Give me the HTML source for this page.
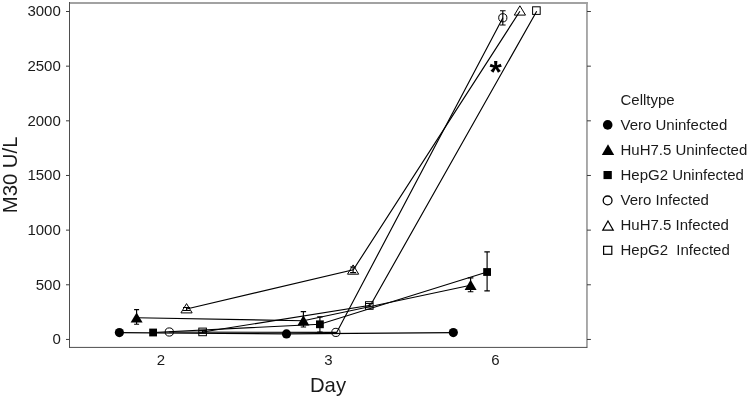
<!DOCTYPE html>
<html>
<head>
<meta charset="utf-8">
<title>M30 U/L by Day and Celltype</title>
<style>
html,body{margin:0;padding:0;background:#fff;}
body{width:750px;height:399px;overflow:hidden;}
svg{display:block;}
text{font-family:"Liberation Sans",sans-serif;fill:#1a1a1a;}
.tick{font-size:15px;}
.leg{font-size:15px;}
.axt{font-size:20.3px;}
.ln{stroke:#000;stroke-width:1.15;fill:none;}
.eb{stroke:#000;stroke-width:1.15;fill:none;}
.fm{fill:#000;stroke:none;}
.om{fill:none;stroke:#000;stroke-width:1;}
</style>
</head>
<body>
<svg width="750" height="399" viewBox="0 0 750 399">
<rect x="0" y="0" width="750" height="399" fill="#ffffff"/>

<!-- plot frame -->
<g id="frame">
  <rect x="69" y="2" width="518.9" height="2" fill="#a2a2a2"/>
  <rect x="586.05" y="2" width="1.8" height="345.9" fill="#a2a2a2"/>
  <rect x="69" y="2" width="1" height="345.9" fill="#4e4e4e"/>
  <rect x="69" y="346.9" width="518.2" height="1" fill="#4e4e4e"/>
</g>

<!-- y axis ticks (left and right) -->
<g id="yticks" stroke="#3c3c3c" stroke-width="1">
  <line x1="66" y1="339.45" x2="69.5" y2="339.45"/><line x1="587" y1="339.45" x2="590.9" y2="339.45"/>
  <line x1="66" y1="284.79" x2="69.5" y2="284.79"/><line x1="587" y1="284.79" x2="590.9" y2="284.79"/>
  <line x1="66" y1="230.13" x2="69.5" y2="230.13"/><line x1="587" y1="230.13" x2="590.9" y2="230.13"/>
  <line x1="66" y1="175.47" x2="69.5" y2="175.47"/><line x1="587" y1="175.47" x2="590.9" y2="175.47"/>
  <line x1="66" y1="120.82" x2="69.5" y2="120.82"/><line x1="587" y1="120.82" x2="590.9" y2="120.82"/>
  <line x1="66" y1="66.16" x2="69.5" y2="66.16"/><line x1="587" y1="66.16" x2="590.9" y2="66.16"/>
  <line x1="66" y1="11.5" x2="69.5" y2="11.5"/><line x1="587" y1="11.5" x2="590.9" y2="11.5"/>
</g>
<!-- y tick labels -->
<g id="ylabels" class="tick" text-anchor="end">
  <text x="60.8" y="16.3">3000</text>
  <text x="60.8" y="70.96">2500</text>
  <text x="60.8" y="125.62">2000</text>
  <text x="60.8" y="180.28">1500</text>
  <text x="60.8" y="234.93">1000</text>
  <text x="60.8" y="289.59">500</text>
  <text x="60.8" y="344.25">0</text>
</g>
<!-- x tick labels -->
<g id="xlabels" class="tick" text-anchor="middle">
  <text x="161" y="364.7">2</text>
  <text x="328.4" y="364.7">3</text>
  <text x="495.5" y="364.7">6</text>
</g>
<!-- axis titles -->
<text class="axt" x="328" y="391.8" text-anchor="middle">Day</text>
<text class="axt" transform="translate(17,174.9) rotate(-90)" text-anchor="middle">M30 U/L</text>

<!-- series lines -->
<g id="lines">
  <polyline class="ln" points="119.4,332.6 286.5,333.9 453.3,332.6"/>
  <polyline class="ln" points="136.6,317.8 303.4,320.7 470.6,285.2"/>
  <polyline class="ln" points="153.1,332.5 319.9,324.3 487.1,272"/>
  <polyline class="ln" points="169.3,332 336.7,332.4 502.9,17.8"/>
  <polyline class="ln" points="186.55,309 353.3,269.8 519.9,11.2"/>
  <polyline class="ln" points="202.6,332 370.5,305.3 536.7,11.2"/>
</g>
<!-- error bars -->
<g id="errorbars">
  <path class="eb" d="M136.6,309.6V324.2M134.1,309.6H139.1M134.1,324.2H139.1"/>
  <path class="eb" d="M303.4,311.6V327M300.7,311.6H306.1M300.7,327H306.1"/>
  <path class="eb" d="M470.6,277.9V291.7M467.8,277.9H473.4M467.8,291.7H473.4"/>
  <path class="eb" d="M319.9,316.9V332.1M317.2,316.9H322.6M317.2,332.1H322.6"/>
  <path class="eb" d="M487.1,251.9V290.9M484.35,251.9H489.85M484.35,290.9H489.85"/>
  <path class="eb" d="M502.8,10.7V25M500,10.7H505.6M500,25H505.6"/>
  <path class="eb" d="M186.55,307.5V310.5M183.05,307.5H190.05M183.05,310.5H190.05"/>
  <path class="eb" d="M353.1,267V272.6M350.1,267H356.1M350.1,272.6H356.1"/>
  <path class="eb" d="M202.6,330.4V332.9M198.8,330.4H206.4M198.8,332.9H206.4"/>
  <path class="eb" d="M369.3,303.5V307M365.5,303.5H373.1M365.5,307H373.1"/>
</g>
<!-- markers -->
<g id="markers">
  <circle class="fm" cx="119.4" cy="332.6" r="4.6"/>
  <circle class="fm" cx="286.5" cy="333.9" r="4.6"/>
  <circle class="fm" cx="453.3" cy="332.6" r="4.6"/>
  <polygon class="fm" points="136.6,312.4 142.6,322.5 130.6,322.5"/>
  <polygon class="fm" points="303.4,315.3 309.4,325.4 297.4,325.4"/>
  <polygon class="fm" points="470.6,279.8 476.6,289.9 464.6,289.9"/>
  <rect class="fm" x="149.2" y="328.6" width="7.8" height="7.8"/>
  <rect class="fm" x="316" y="320.4" width="7.8" height="7.8"/>
  <rect class="fm" x="483.2" y="268.1" width="7.8" height="7.8"/>
  <circle class="om" cx="169.3" cy="332" r="4.1"/>
  <circle class="om" cx="335.9" cy="332.4" r="4.1"/>
  <circle class="om" cx="502.8" cy="17.8" r="4.1"/>
  <polygon class="om" points="186.55,303.6 192.15,312.9 180.95,312.9"/>
  <polygon class="om" points="353.1,264.9 358.7,274.2 347.5,274.2"/>
  <polygon class="om" points="519.9,5.8 525.5,15.1 514.3,15.1"/>
  <rect class="om" x="198.8" y="328.1" width="7.6" height="7.6"/>
  <rect class="om" x="365.5" y="301.7" width="7.6" height="7.6"/>
  <rect class="om" x="532.6" y="6.8" width="7.6" height="7.6"/>
</g>
<!-- asterisk annotation -->
<text x="495.6" y="82.9" text-anchor="middle" style="font-size:31.6px;font-weight:bold;fill:#000">*</text>

<!-- legend -->
<g id="legend">
  <text class="leg" x="620.5" y="104.5">Celltype</text>
  <circle class="fm" cx="607.7" cy="124.9" r="4.8"/>
  <text class="leg" x="620.5" y="130.2">Vero Uninfected</text>
  <polygon class="fm" points="608,144.2 614.2,155.1 601.8,155.1"/>
  <text class="leg" x="620.5" y="155.2">HuH7.5 Uninfected</text>
  <rect class="fm" x="603.5" y="171" width="8.3" height="8.1"/>
  <text class="leg" x="620.5" y="180.3">HepG2 Uninfected</text>
  <circle class="om" cx="607.6" cy="200.4" r="4.4" style="stroke-width:1.3"/>
  <text class="leg" x="620.5" y="205.3">Vero Infected</text>
  <polygon class="om" points="608,221 613.25,230.1 602.75,230.1" style="stroke-width:1.2"/>
  <text class="leg" x="620.5" y="230.4">HuH7.5 Infected</text>
  <rect class="om" x="603.6" y="246.3" width="8.2" height="8" style="stroke-width:1.2"/>
  <text class="leg" x="620.5" y="254.9" xml:space="preserve">HepG2  Infected</text>
</g>
</svg>
</body>
</html>
